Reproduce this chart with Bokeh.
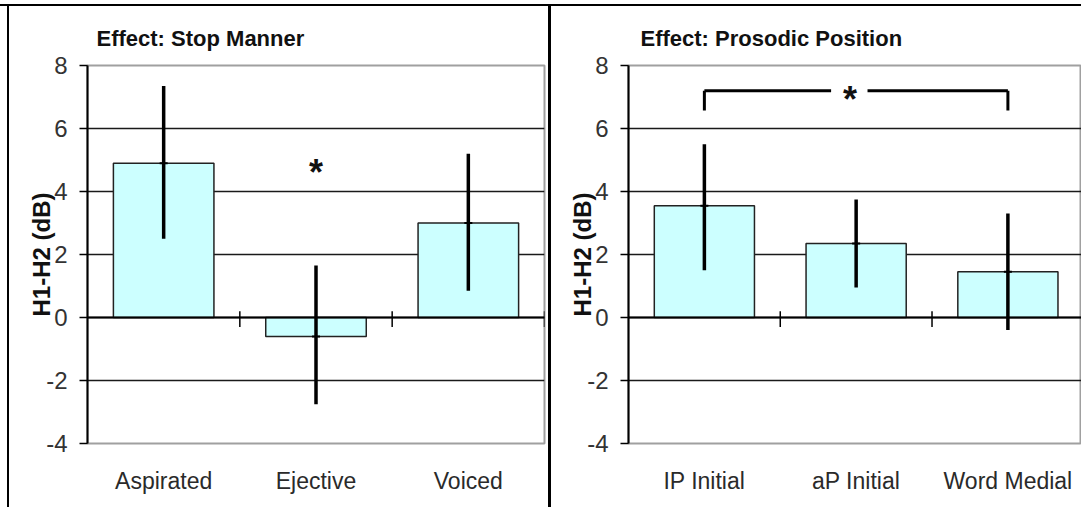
from bokeh.plotting import figure
from bokeh.models import Range1d, FixedTicker, Div, ColumnDataSource
from bokeh.layouts import row, column
from bokeh.core.properties import value
from bokeh.embed import file_html
from bokeh.resources import INLINE

# ---------------- data ----------------
manner_cats = ["Aspirated", "Ejective", "Voiced"]
manner_mean = [4.9, -0.6, 3.0]
manner_hi = [7.35, 1.65, 5.2]
manner_lo = [2.5, -2.75, 0.85]
manner_star_y = 4.6

position_cats = ["IP Initial", "aP Initial", "Word Medial"]
position_mean = [3.55, 2.35, 1.45]
position_hi = [5.5, 3.75, 3.3]
position_lo = [1.5, 0.95, -0.4]
position_bracket = (0, 2)          # compared categories (IP Initial vs Word Medial)
position_bracket_y = 7.2
position_bracket_drop = 6.57

y_ticks = [-4, -2, 0, 2, 4, 6, 8]
y_tick_labels = ["-4", "-2", "0", "2", "4", "6", "8"]
y_grid = [-2, 0, 2, 4, 6]

FONT = "Liberation Sans"
BAR_FILL = "#ccffff"


def make_panel(title, cats, means, his, los, width, x_end, min_left, min_right,
               min_top, min_bottom, title_offset):
    p = figure(width=width, height=501, x_range=Range1d(0, x_end), y_range=Range1d(-4, 8),
               output_backend="svg", toolbar_location=None,
               min_border_left=min_left, min_border_right=min_right,
               min_border_top=min_top, min_border_bottom=min_bottom)
    p.title.text = title
    p.title.text_font = FONT
    p.title.text_font_size = "22px"
    p.title.text_font_style = "bold"
    p.title.text_color = "#111111"
    p.title.align = "left"
    p.title.offset = title_offset
    p.title.standoff = 30

    p.background_fill_color = "white"
    p.border_fill_color = "white"
    p.outline_line_color = "#a0a0a0"
    p.outline_line_width = 2

    # y axis
    yax = p.yaxis[0]
    yax.ticker = FixedTicker(ticks=y_ticks)
    yax.major_label_overrides = {t: s for t, s in zip(y_ticks, y_tick_labels)}
    yax.axis_line_color = "black"
    yax.axis_line_width = 2
    yax.major_tick_line_color = "black"
    yax.major_tick_line_width = 1.5
    yax.major_tick_out = 8
    yax.major_tick_in = 0
    yax.minor_tick_line_color = None
    yax.major_label_text_font = FONT
    yax.major_label_text_font_size = "24px"
    yax.major_label_text_color = "#333333"
    yax.major_label_standoff = 12
    yax.axis_label = "H1-H2 (dB)"
    yax.axis_label_text_font = FONT
    yax.axis_label_text_font_size = "24px"
    yax.axis_label_text_font_style = "bold"
    yax.axis_label_text_color = "#111111"
    yax.axis_label_standoff = -12

    # x axis: only category labels (Excel puts them at the low position)
    n = len(cats)
    centers = [i + 0.5 for i in range(n)]
    xax = p.xaxis[0]
    xax.ticker = FixedTicker(ticks=centers)
    xax.major_label_overrides = {c: lab for c, lab in zip(centers, cats)}
    xax.axis_line_color = None
    xax.major_tick_line_color = None
    xax.minor_tick_line_color = None
    xax.major_label_text_font = FONT
    xax.major_label_text_font_size = "23px"
    xax.major_label_text_color = "#2a2a2a"
    xax.major_label_standoff = 18

    p.xgrid.visible = False
    p.ygrid.ticker = FixedTicker(ticks=y_grid)
    p.ygrid.grid_line_color = "#1a1a1a"
    p.ygrid.grid_line_width = 1.5

    src = ColumnDataSource(dict(x=centers, top=means, hi=his, lo=los))
    p.vbar(x="x", top="top", bottom=0, width=0.66, source=src,
           fill_color=BAR_FILL, line_color="#222222", line_width=1.5)

    # category axis at y = 0 with crossing tick marks between categories
    p.segment(x0=[0], y0=[0], x1=[n], y1=[0], line_color="black", line_width=1.8)
    bounds = list(range(1, n + 1))
    p.segment(x0=bounds, y0=[-0.3] * n, x1=bounds, y1=[0.2] * n,
              line_color="black", line_width=1.5)

    # error bars
    p.segment(x0="x", y0="lo", x1="x", y1="hi", source=src,
              line_color="black", line_width=3.5)
    p.scatter(x="x", y="top", source=src, marker="dash", size=8,
              line_color="black", line_width=2)
    return p, centers


p1, c1 = make_panel("Effect: Stop Manner", manner_cats, manner_mean, manner_hi, manner_lo,
                    width=539, x_end=3, min_left=78, min_right=4,
                    min_top=59, min_bottom=64, title_offset=9)
p1.text(x=[c1[1]], y=[manner_star_y], text=["*"], text_font=value(FONT),
        text_font_size="36px", text_font_style="bold", text_align="center",
        text_baseline="middle", text_color="#111111")

p2, c2 = make_panel("Effect: Prosodic Position", position_cats, position_mean, position_hi,
                    position_lo, width=530, x_end=2.985, min_left=77, min_right=0,
                    min_top=59, min_bottom=62, title_offset=12)
xa = c2[position_bracket[0]]
xb = c2[position_bracket[1]]
xm = (xa + xb) / 2 - 0.04
p2.segment(x0=[xa, xa, xm + 0.115, xb], y0=[position_bracket_drop, position_bracket_y,
                                            position_bracket_y, position_bracket_y],
           x1=[xa, xm - 0.125, xb, xb], y1=[position_bracket_y, position_bracket_y,
                                             position_bracket_y, position_bracket_drop],
           line_color="black", line_width=3)
p2.text(x=[xm], y=[position_bracket_y - 0.28], text=["*"], text_font=value(FONT),
        text_font_size="36px", text_font_style="bold", text_align="center",
        text_baseline="middle", text_color="#111111")


def bar(w, h, color=None):
    styles = {"background-color": color} if color else {}
    return Div(width=w, height=h, margin=(0, 0, 0, 0), styles=styles)


layout = column(
    bar(1081, 4),
    bar(1081, 2, "black"),
    row(bar(7, 501), bar(2, 501, "black"), p1, bar(3, 501, "black"), p2, spacing=0),
    spacing=0,
)

open("out.html", "w").write(file_html(layout, INLINE))
